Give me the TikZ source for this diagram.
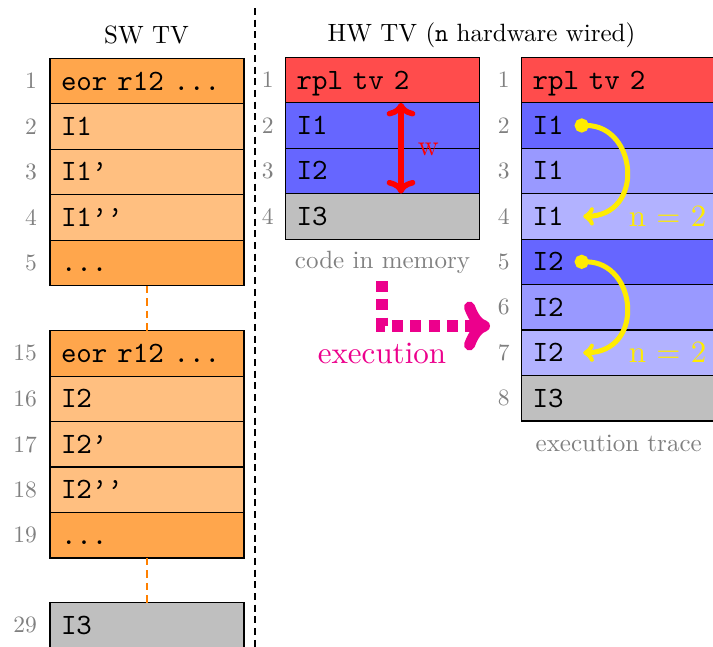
\documentclass[tikz,border=0pt]{standalone}
\usepackage{fontspec}
\setmainfont{lmroman10-regular}[Extension=.otf]
\setmonofont{lmmono10-regular}[Extension=.otf]
\usetikzlibrary{arrows.meta}
\definecolor{mag}{RGB}{236,0,140}
\definecolor{ylw}{RGB}{255,236,0}
\colorlet{oD}{orange!70}
\colorlet{oL}{orange!50}
\colorlet{hot}{red!70}
\colorlet{bA}{blue!60}
\colorlet{bB}{blue!40}
\colorlet{bC}{blue!30}
\colorlet{gR}{black!25}
\tikzset{
  row/.style={draw=black, line width=1.2pt, rectangle, anchor=north west, outer sep=0pt,
    minimum width=194pt, minimum height=45.45pt, text width=172pt, inner xsep=11pt,
    inner ysep=0pt, align=left, text height=18pt, text depth=0pt,
    font=\fontsize{29.5}{34}\selectfont\ttfamily},
  num/.style={anchor=east, inner sep=0pt, text=gray, font=\fontsize{23.5}{28}\selectfont},
  lbl/.style={inner sep=0pt, anchor=base, font=\fontsize{25}{29}\selectfont},
  biglbl/.style={inner sep=0pt, anchor=base, font=\fontsize{31}{36}\selectfont},
  odash/.style={draw=orange, line width=1.6pt, dash pattern=on 7.5pt off 5pt},
  kdash/.style={draw=black, line width=2.6pt, dash pattern=on 7pt off 4.7pt},
  redarr/.style={draw=red, line width=5.5pt, <->},
  yarc/.style={draw=ylw, line width=5pt, arrows={Circle[length=14pt]-{to[scale=1.1]}}},
  magarr/.style={draw=mag, line width=11.5pt, dash pattern=on 11pt off 7.3pt},
  magtip/.style={draw=mag, line width=11pt, line cap=round, line join=round},
}
\begin{document}
\begin{tikzpicture}[x=1pt,y=-1pt]
\useasboundingbox (0,0) rectangle (713,646);
\clip (0,0) rectangle (713,646);
% titles
\node[lbl] (swt) at (146.5,43.5) {SW TV};
\node[lbl] (hwt) at (481.5,41) {HW TV (\texttt{n} hardware wired)};
% separator
\coordinate (dtop) at (255,8);
\coordinate (dbot) at (255,652);
\draw[kdash] (dtop) -- (dbot);
% SW TV column
\node[row, fill=oD] (s1) at (50,58.3) {eor r12 ...};
\node[row, fill=oL] (s2) at (50,103.75) {I1};
\node[row, fill=oL] (s3) at (50,149.2) {I1’};
\node[row, fill=oL] (s4) at (50,194.65) {I1’’};
\node[row, fill=oD] (s5) at (50,240.1) {...};
\node[row, fill=oD] (s15) at (50,330.7) {eor r12 ...};
\node[row, fill=oL] (s16) at (50,376.15) {I2};
\node[row, fill=oL] (s17) at (50,421.6) {I2’};
\node[row, fill=oL] (s18) at (50,467.05) {I2’’};
\node[row, fill=oD] (s19) at (50,512.5) {...};
\node[row, fill=gR] (s29) at (50,602.7) {I3};
\foreach \n/\t in {s1/1,s2/2,s3/3,s4/4,s5/5,s15/15,s16/16,s17/17,s18/18,s19/19,s29/29}
  \node[num] (l\n) at ([xshift=-13pt]\n.west) {\t};
\draw[odash] (s5.south) -- (s15.north);
\draw[odash] (s19.south) -- (s29.north);
% code in memory
\node[row, fill=hot] (m1) at (285.7,57.3) {rpl tv 2};
\node[row, fill=bA] (m2) at (285.7,102.75) {I1};
\node[row, fill=bA] (m3) at (285.7,148.2) {I2};
\node[row, fill=gR] (m4) at (285.7,193.65) {I3};
\foreach \n/\t in {m1/1,m2/2,m3/3,m4/4}
  \node[num] (l\n) at ([xshift=-12pt]\n.west) {\t};
\node[lbl, text=gray] (cim) at (382.5,268.5) {code in memory};
\coordinate (wx) at (401,0);
\draw[redarr] (m2.north -| wx) -- (m3.south -| wx)
  node[midway, anchor=base west, inner sep=0pt, xshift=14pt, yshift=-7.5pt, text=red,
       font=\fontsize{29}{34}\selectfont] (wl) {w};
% execution trace
\node[row, fill=hot] (t1) at (521.7,57.3) {rpl tv 2};
\node[row, fill=bA] (t2) at (521.7,102.75) {I1};
\node[row, fill=bB] (t3) at (521.7,148.2) {I1};
\node[row, fill=bC] (t4) at (521.7,193.65) {I1};
\node[row, fill=bA] (t5) at (521.7,239.1) {I2};
\node[row, fill=bB] (t6) at (521.7,284.55) {I2};
\node[row, fill=bC] (t7) at (521.7,330) {I2};
\node[row, fill=gR] (t8) at (521.7,375.45) {I3};
\foreach \n/\t in {t1/1,t2/2,t3/3,t4/4,t5/5,t6/6,t7/7,t8/8}
  \node[num] (l\n) at ([xshift=-12pt]\n.west) {\t};
\node[lbl, text=gray] (ext) at (618.7,451) {execution trace};
\draw[yarc] ([xshift=53pt]t2.west) to[out=0,in=0,looseness=1.75] ([xshift=61.5pt]t4.west);
\draw[yarc] ([xshift=53pt]t5.west) to[out=0,in=0,looseness=1.75] ([xshift=61.5pt]t7.west);
\node[biglbl, text=ylw] (na) at (667.5,226.5) {n = 2};
\node[biglbl, text=ylw] (nb) at (667.5,362.5) {n = 2};
% execution arrow
\coordinate (ea) at (382,281);
\coordinate (eb) at (478,326);
\coordinate (tipP) at (484.5,326);
\draw[magarr] (ea) |- (eb);
\draw[magtip] ([shift={(-15,-19)}]tipP) .. controls ([shift={(-11,-8)}]tipP) and ([shift={(-6,-2)}]tipP) .. (tipP)
  .. controls ([shift={(-6,2)}]tipP) and ([shift={(-11,8)}]tipP) .. ([shift={(-15,19)}]tipP);
\node[biglbl, text=mag] (exl) at (382,363.3) {execution};
\end{tikzpicture}
\end{document}
